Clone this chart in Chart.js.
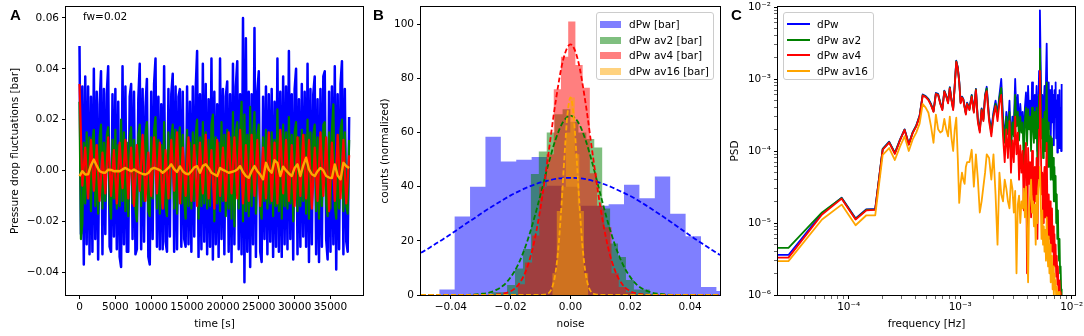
<!DOCTYPE html>
<html>
<head>
<meta charset="utf-8">
<script src="https://cdn.jsdelivr.net/npm/chart.js@4.4.1/dist/chart.umd.min.js"></script>
<style>
body{margin:0;background:#fff;overflow:hidden;font-family:"DejaVu Sans",sans-serif;color:#000;}
#wrap{position:relative;width:1084px;height:336px;overflow:hidden;}
canvas{position:absolute;top:0;}
.lbl{position:absolute;font:bold 15px "Liberation Sans",Arial,sans-serif;line-height:15px;}
.note{position:absolute;font-size:10.5px;line-height:12px;white-space:nowrap;}
.leg{position:absolute;box-sizing:border-box;background:rgba(255,255,255,0.8);border:1px solid #ccc;border-radius:3px;}
.row{position:absolute;left:0;height:12px;font-size:10.5px;line-height:12px;white-space:nowrap;}
.row i{position:absolute;display:block;}
.row span{position:absolute;}
</style>
</head>
<body>
<div id="wrap">
  <canvas id="cA" width="364" height="336" style="left:0"></canvas>
  <canvas id="cB" width="362" height="336" style="left:364px"></canvas>
  <canvas id="cC" width="358" height="336" style="left:726px"></canvas>
  <div class="lbl" style="left:10px;top:7px">A</div>
  <div class="lbl" style="left:373px;top:7px">B</div>
  <div class="lbl" style="left:731px;top:7px">C</div>
  <div class="note" style="left:83px;top:10px">fw=0.02</div>
  <div class="leg" id="legB" style="left:596px;top:12px;width:118px;height:68px"></div>
  <div class="leg" id="legC" style="left:783px;top:12px;width:91px;height:68px"></div>
</div>
<script>
// ===== A: pressure drop fluctuations [bar] =====
const sampleDt = 200;      // s, dPw / av2
const sampleDt4 = 400;     // s, av4
const sampleDt16 = 400;    // s, av16
const dPw = [
  0.049,-0.025,0.033,-0.037,0.037,-0.029,0.033,-0.033,0.029,-0.032,
  0.040,-0.027,0.031,-0.035,0.026,0.039,-0.033,0.032,-0.025,0.030,
  0.041,-0.030,-0.032,0.030,-0.026,0.032,-0.031,0.027,-0.034,-0.038,
  0.041,-0.029,0.033,-0.032,-0.032,0.029,0.034,-0.027,0.031,-0.033,
  -0.031,0.028,0.042,-0.031,0.032,-0.028,0.025,0.036,-0.034,-0.037,
  0.031,-0.027,0.034,0.044,-0.030,0.029,-0.031,0.026,-0.031,0.041,
  -0.028,-0.032,0.032,-0.026,0.030,0.038,-0.032,0.033,-0.031,0.029,
  0.032,-0.030,0.031,-0.027,-0.030,0.033,-0.029,0.027,-0.032,0.033,
  -0.026,0.032,0.047,-0.034,0.030,-0.031,0.042,-0.028,0.034,-0.033,
  0.028,-0.030,0.044,-0.035,0.031,-0.029,0.026,-0.034,0.044,-0.027,
  0.032,-0.033,0.029,0.035,-0.032,0.030,-0.036,0.042,-0.029,0.033,
  0.043,-0.031,0.030,-0.033,0.060,-0.044,0.052,-0.032,0.031,-0.038,
  0.030,-0.029,0.056,-0.034,0.031,0.039,-0.032,-0.036,0.029,-0.027,
  0.033,-0.033,0.030,-0.028,0.032,-0.034,0.027,-0.030,0.044,-0.032,
  0.031,-0.034,0.037,-0.029,0.033,-0.031,0.047,-0.027,0.030,-0.035,
  0.032,0.040,-0.033,0.028,-0.030,0.034,-0.026,0.031,-0.030,0.042,
  -0.036,0.032,-0.029,0.030,0.037,-0.033,0.028,-0.036,0.032,-0.030,
  0.037,0.039,-0.027,-0.035,0.031,-0.032,0.033,-0.029,0.041,-0.039,
  0.030,-0.031,0.034,0.043,-0.033,0.032,-0.028,-0.032,0.021
];
const dPwAv2 = [
  0.027,-0.027,-0.021,0.011,-0.013,0.015,-0.011,0.013,-0.016,0.012,
  0.016,-0.014,0.010,-0.017,0.013,0.018,-0.015,0.011,-0.012,0.014,
  0.017,-0.013,-0.019,0.012,-0.011,0.016,-0.015,0.010,-0.014,0.020,
  -0.012,0.015,-0.016,0.011,-0.018,0.013,0.017,-0.013,0.012,-0.015,
  -0.020,0.014,0.018,-0.014,0.011,-0.012,0.015,0.019,-0.016,-0.018,
  0.013,-0.011,0.016,0.021,-0.015,0.012,-0.017,0.010,-0.013,0.019,
  -0.014,-0.018,0.015,-0.011,0.013,0.018,-0.015,0.016,-0.017,0.012,
  0.017,-0.013,0.014,-0.012,-0.019,0.016,-0.014,0.011,-0.015,0.015,
  -0.012,0.014,0.020,-0.019,0.013,-0.014,0.019,-0.013,0.015,-0.015,
  0.012,-0.014,0.018,0.022,-0.020,0.013,-0.013,0.011,-0.016,0.019,
  -0.012,0.014,-0.018,0.016,-0.015,0.013,-0.019,0.023,-0.022,0.015,
  0.019,-0.015,0.015,0.027,-0.020,0.022,-0.016,0.014,-0.018,0.025,
  -0.014,0.013,0.023,-0.017,0.014,0.018,-0.015,-0.019,0.013,-0.012,
  0.016,-0.015,0.014,-0.013,0.015,-0.018,0.012,-0.014,0.024,-0.016,
  0.014,-0.019,0.018,-0.014,0.015,-0.015,0.021,-0.013,0.014,-0.020,
  0.015,0.019,-0.016,0.013,-0.014,0.016,-0.012,0.014,-0.017,0.020,
  -0.019,0.015,-0.014,0.014,0.018,-0.016,0.013,-0.019,0.015,-0.014,
  0.018,0.019,-0.013,-0.018,0.015,-0.015,0.016,0.026,-0.014,-0.019,
  0.014,-0.015,0.016,0.020,-0.016,0.015,-0.014,-0.017,0.012
];
const dPwAv4 = [
  0.034,-0.006,0.009,-0.011,0.012,-0.008,0.010,-0.012,0.007,-0.009,
  0.013,-0.010,0.008,-0.013,0.011,-0.007,0.012,-0.011,0.009,-0.014,
  0.010,-0.008,0.014,-0.012,0.007,-0.010,0.013,-0.009,0.011,-0.015,
  0.008,-0.011,0.012,-0.008,0.015,-0.013,0.009,-0.010,0.013,-0.012,
  0.010,-0.014,0.011,-0.009,0.014,-0.011,0.008,-0.015,0.012,-0.010,
  0.009,-0.012,0.015,-0.009,0.013,-0.011,0.016,-0.013,0.010,-0.012,
  0.014,-0.010,0.012,-0.014,0.009,-0.011,0.015,-0.012,0.011,-0.013,
  0.016,-0.009,0.012,-0.012,0.010,-0.014,0.013,-0.010,0.014,-0.011,
  0.012,-0.015,0.009,-0.012,0.015,-0.010,0.013,-0.016,0.011,-0.012,
  0.014,-0.011,0.012,-0.013,0.006
];
const dPwAv16 = [
  -0.0022,-0.0003,-0.0016,-0.0015,0.0020,0.0043,0.0018,-0.0003,-0.0008,-0.0009,
  0.0003,0.0002,-0.0003,-0.0002,-0.0003,0.0004,0.0010,0.0003,-0.0003,0.0004,
  -0.0003,-0.0009,-0.0014,-0.0016,-0.0010,0.0005,0.0010,0.0006,0.0001,-0.0009,
  0.0000,0.0010,0.0024,0.0005,-0.0006,0.0016,-0.0003,-0.0012,-0.0015,-0.0003,
  0.0012,0.0017,-0.0009,0.0018,0.0024,0.0010,-0.0009,-0.0015,-0.0022,0.0010,
  0.0002,-0.0003,-0.0009,-0.0006,-0.0003,0.0004,0.0017,-0.0006,-0.0022,-0.0029,
  -0.0003,0.0017,-0.0003,-0.0016,-0.0035,0.0030,0.0003,-0.0009,0.0040,0.0030,
  -0.0022,0.0015,0.0000,-0.0012,-0.0022,0.0010,0.0024,-0.0022,0.0020,0.0050,
  0.0004,-0.0015,-0.0022,-0.0003,0.0010,0.0000,-0.0022,-0.0028,-0.0030,0.0024,
  -0.0020,-0.0035,0.0030,0.0017,0.0010
];
const timeTicks = [0,5000,10000,15000,20000,25000,30000,35000];
const dpTicks = [-0.04,-0.02,0,0.02,0.04,0.06];

// ===== B: noise histograms (normalized counts) =====
const histEdgesDPw = [-0.0439,-0.03875,-0.0336,-0.02845,-0.0233,-0.01815,-0.013,-0.00785,-0.0027,0.00245,0.0076,
  0.01275,0.0179,0.02305,0.0282,0.03335,0.0385,0.04365,0.0488,0.05395,0.0591];
const histDPw = [2,29,40,58.5,49.3,50,51,40.4,40,33,33,33.5,40.7,35.7,43.8,30,21.7,3,1.5,0.5];
const histEdgesAv2 = [-0.0265,-0.02385,-0.0212,-0.01855,-0.0159,-0.01325,-0.0106,-0.00795,-0.0053,-0.00265,0,
  0.00265,0.0053,0.00795,0.0106,0.01325,0.0159,0.01855,0.0212,0.02385,0.0265,0.02915];
const histAv2 = [1,1,3.7,9.8,17,44.7,53,60,66.8,68.6,64,60,57.6,54.5,32,19,14,5.5,2,2,0.5];
const histEdgesAv4 = [-0.01768,-0.01526,-0.01285,-0.01043,-0.00802,-0.0056,-0.00319,-0.00077,0.00164,0.00406,
  0.00647,0.00889,0.0113,0.01372,0.01613,0.01855,0.02096];
const histAv4 = [4,12,22,40,52,76,88,101,85,76.6,45,33,25,8,3,1];
const histEdgesAv16 = [-0.0061,-0.00459,-0.00308,-0.00157,-0.00006,0.00145,0.00296,0.00447,0.00598];
const histAv16 = [8,31,40,60,73,52,31,8];

const fitX = [-0.05,-0.0475,-0.045,-0.0425,-0.04,-0.0375,-0.035,-0.0325,-0.03,-0.0275,-0.025,-0.0225,-0.02,-0.0175,
  -0.015,-0.0125,-0.01,-0.0075,-0.005,-0.0025,0,0.0025,0.005,0.0075,0.01,0.0125,0.015,0.0175,0.02,0.0225,0.025,
  0.0275,0.03,0.0325,0.035,0.0375,0.04,0.0425,0.045,0.0475,0.05];
const fitDPw = [15.6,17.2,19.0,20.7,22.5,24.4,26.3,28.1,30.0,31.8,33.5,35.2,36.8,38.2,39.5,40.6,41.6,42.3,42.9,43.2,43.3,
  43.2,42.8,42.2,41.4,40.4,39.2,37.9,36.6,35.0,33.3,31.5,29.7,27.8,25.9,23.9,22.0,20.1,18.3,16.5,14.8];
const fitAv2 = [0,0,0,0,0,0,0.05,0.15,0.4,0.8,1.8,3.5,6.6,11.3,18.1,26.9,37.2,47.9,57.4,63.9,66.3,
  63.9,57.4,47.9,37.2,26.9,18.1,11.3,6.6,3.5,1.8,0.8,0.4,0.15,0.05,0,0,0,0,0,0];
const fitAv4 = [0,0,0,0,0,0,0,0,0,0,0.15,0.5,1.4,3.7,8.7,17.9,32.4,51.3,71.2,86.7,92.6,
  86.7,71.2,51.3,32.4,17.9,8.7,3.7,1.4,0.5,0.15,0,0,0,0,0,0,0,0,0,0];
const fitX16 = [-0.05,-0.012,-0.01,-0.009,-0.008,-0.007,-0.006,-0.005,-0.004,-0.003,-0.002,-0.001,0,
  0.001,0.002,0.003,0.004,0.005,0.006,0.007,0.008,0.009,0.01,0.012,0.05];
const fitAv16 = [0,0,0,0.1,0.3,1.0,3.2,8.3,18.2,33.4,51.6,66.9,73,66.9,51.6,33.4,18.2,8.3,3.2,1.0,0.3,0.1,0,0,0];
const noiseTicks = [-0.04,-0.02,0,0.02,0.04];
const countTicks = [0,20,40,60,80,100];

// ===== C: PSD =====
const binHz = 2.88e-5;
const psdBin = [0.5,1,2,3,4,5,6,7,8,9,10,11,12,13,14,15,16,17,18,19,20,21,22,23,24,25,26,27,28,29,30,
  31,32,33,34,35,36,37,38,39,40,42,44,46,48,50,52,54,56,58,60,
  63,66,69,72,75,78,81,84,87,90,93,96,99,102,105,108,111,114,117,120,123,126,129,132,135,138,141,144,147,150,
  153,156,159,162,165,168,171,174,177,180,183,186,189,192,195,198,201,204,207,210,213,216,219,222,225,228,
  231,234,237,240,243,246,249,252,255,258,261,264,267,270,273,276,279,282];
const psdDPw = [
  3.6e-6,3.6e-6,1.36e-5,2.25e-5,1.16e-5,1.55e-5,1.57e-5,1.07e-4,1.35e-4,9.4e-5,1.44e-4,2.0e-4,1.26e-4,1.82e-4,
  2.27e-4,3.1e-4,6.1e-4,5.8e-4,5.3e-4,4.5e-4,3.6e-4,6.4e-4,6.2e-4,4.7e-4,3.85e-4,6.9e-4,5.9e-4,4.8e-4,7.7e-4,
  5.2e-4,3.9e-4,8.3e-4,1.8e-3,1.46e-3,9.4e-4,4.8e-4,5.7e-4,5.3e-4,4.2e-4,3.35e-4,4.7e-4,
  3.9e-4,6.0e-4,3.6e-4,7.3e-4,2.7e-4,2.0e-4,3.9e-4,2.8e-4,6.0e-4,7.8e-4,
  3.0e-4,2.0e-4,3.5e-4,5.0e-4,3.2e-4,6.0e-4,1.0e-3,3.0e-4,1.5e-4,3.5e-4,
  2.0e-4,5.0e-4,1.2e-4,3.0e-4,2.2e-4,1.0e-3,3.0e-4,6.0e-4,2.0e-4,4.5e-4,
  2.5e-4,3.5e-4,1.4e-4,4.0e-4,6.5e-4,2.0e-4,8.0e-4,3.0e-4,5.0e-4,1.8e-4,
  9.0e-4,4.0e-4,2.4e-4,6.0e-4,3.0e-4,8.0e-4,1.0e-4,4.0e-4,1.3e-3,9.0e-3,
  1.5e-3,3.0e-4,6.0e-4,1.5e-4,4.5e-4,8.0e-4,2.5e-4,1.0e-3,3.1e-3,5.0e-4,
  2.0e-4,9.0e-4,3.0e-4,7.0e-4,1.5e-4,4.0e-4,8.0e-4,2.5e-4,6.0e-4,1.2e-4,
  7.0e-4,3.0e-4,9.0e-4,1.5e-4,5.0e-4,9.5e-5,6.0e-4,2.5e-4,1.1e-4,7.0e-4,
  2.0e-4,4.0e-4,1.0e-4,8.5e-4
];
const psdAv2 = [
  4.5e-6,4.5e-6,1.4e-5,2.22e-5,1.14e-5,1.53e-5,1.55e-5,1.06e-4,1.33e-4,9.3e-5,1.42e-4,1.98e-4,1.24e-4,1.8e-4,
  2.24e-4,3.05e-4,6.0e-4,5.7e-4,5.2e-4,4.4e-4,3.55e-4,6.3e-4,6.1e-4,4.6e-4,3.8e-4,6.8e-4,5.8e-4,4.7e-4,7.6e-4,
  5.1e-4,3.8e-4,8.2e-4,1.77e-3,1.43e-3,9.2e-4,4.7e-4,5.6e-4,5.2e-4,4.1e-4,3.3e-4,4.6e-4,
  3.8e-4,5.9e-4,3.5e-4,7.2e-4,2.6e-4,1.9e-4,3.8e-4,2.7e-4,5.9e-4,7.4e-4,
  2.8e-4,1.8e-4,3.2e-4,4.5e-4,3.0e-4,5.5e-4,7.5e-4,2.5e-4,1.3e-4,3.0e-4,
  1.7e-4,3.5e-4,1.0e-4,2.5e-4,1.6e-4,6.0e-4,2.2e-4,3.5e-4,1.4e-4,3.0e-4,
  1.8e-4,2.5e-4,6.0e-5,2.6e-4,4.0e-4,1.2e-4,3.8e-4,2.0e-4,3.0e-4,1.0e-4,
  4.0e-4,2.2e-4,1.3e-4,3.5e-4,1.5e-4,4.0e-4,6.0e-5,2.0e-4,6.0e-4,2.65e-3,
  6.0e-4,1.5e-4,2.8e-4,8.0e-5,2.0e-4,3.5e-4,1.0e-4,3.5e-4,9.0e-4,1.6e-4,
  6.0e-5,2.5e-4,8.0e-5,1.6e-4,4.0e-5,9.0e-5,1.5e-4,4.0e-5,8.0e-5,2.0e-5,
  6.0e-5,2.0e-5,4.5e-5,1.0e-5,2.5e-5,6.0e-6,1.5e-5,5.0e-6,3.0e-6,6.0e-6,
  2.0e-6,2.5e-6,1.2e-6,1.0e-6
];
const psdAv4 = [
  3.3e-6,3.3e-6,1.31e-5,2.18e-5,1.12e-5,1.5e-5,1.52e-5,1.04e-4,1.31e-4,9.1e-5,1.4e-4,1.96e-4,1.22e-4,1.77e-4,
  2.2e-4,3.0e-4,5.9e-4,5.6e-4,5.1e-4,4.3e-4,3.5e-4,6.2e-4,6.0e-4,4.5e-4,3.7e-4,6.7e-4,5.7e-4,4.6e-4,7.4e-4,
  5.0e-4,3.7e-4,8.0e-4,1.73e-3,1.4e-3,9.0e-4,4.6e-4,5.5e-4,5.1e-4,4.0e-4,3.2e-4,4.5e-4,
  3.7e-4,5.7e-4,3.4e-4,7.0e-4,2.5e-4,1.8e-4,3.7e-4,2.6e-4,5.7e-4,6.8e-4,
  2.6e-4,1.6e-4,3.0e-4,4.2e-4,2.6e-4,4.6e-4,6.0e-4,1.6e-4,7.0e-5,2.0e-4,
  8.0e-5,2.6e-4,5.0e-5,1.4e-4,7.0e-5,3.0e-4,9.0e-5,1.8e-4,4.0e-5,1.2e-4,
  5.0e-5,1.0e-4,1.5e-5,8.0e-5,1.3e-4,2.0e-6,1.1e-4,3.5e-5,7.0e-5,1.2e-5,
  1.0e-4,3.0e-5,1.5e-5,6.0e-5,2.0e-5,8.0e-5,6.0e-6,4.0e-5,2.0e-4,1.3e-3,
  2.0e-4,2.5e-5,5.0e-5,1.0e-5,4.0e-5,6.0e-5,1.2e-5,4.0e-5,1.3e-4,1.8e-5,
  6.0e-6,2.5e-5,8.0e-6,2.0e-5,4.0e-6,1.0e-5,1.6e-5,4.0e-6,9.0e-6,2.5e-6,
  7.0e-6,2.5e-6,5.0e-6,1.8e-6,3.5e-6,1.4e-6,2.5e-6,1.2e-6,1.0e-6,1.6e-6,
  9.0e-7,1.1e-6,9.0e-7,8.5e-7
];
const psdAv16 = [
  2.96e-6,2.96e-6,1.12e-5,1.8e-5,9.3e-6,1.28e-5,1.28e-5,8.8e-5,1.1e-4,7.5e-5,1.15e-4,1.6e-4,1.0e-4,1.45e-4,
  1.8e-4,2.4e-4,4.5e-4,4.0e-4,3.4e-4,2.2e-4,1.3e-4,3.2e-4,2.0e-4,1.8e-4,1.9e-4,2.8e-4,2.0e-4,1.6e-4,3.0e-4,
  1.5e-4,1.0e-4,2.0e-4,2.9e-4,8.0e-5,1.9e-5,3.5e-5,5.0e-5,4.0e-5,3.5e-5,6.0e-5,7.0e-5,
  7.0e-5,1.04e-4,3.2e-5,9.0e-5,4.0e-5,1.4e-5,2.0e-5,3.2e-5,5.0e-5,9.0e-5,
  8.0e-5,4.0e-5,9.0e-5,2.5e-5,5.0e-6,5.0e-5,2.5e-5,2.0e-5,4.0e-5,3.0e-5,
  2.0e-5,1.6e-5,4.0e-5,3.0e-5,1.4e-5,2.8e-5,2.0e-6,1.8e-5,2.4e-5,1.0e-5,
  2.0e-5,1.6e-5,3.0e-5,1.2e-5,3.2e-5,8.0e-6,1.5e-6,1.6e-5,2.4e-5,4.0e-5,
  1.4e-5,2.0e-5,9.0e-6,1.8e-5,5.0e-6,2.4e-5,1.0e-5,3.0e-5,4.0e-5,6.0e-5,
  2.0e-5,6.0e-6,1.5e-5,5.0e-6,9.0e-6,4.0e-6,8.0e-6,3.0e-6,1.2e-5,5.0e-6,
  2.5e-6,6.5e-6,2.0e-6,5.0e-6,1.5e-6,3.5e-6,3.0e-6,1.2e-6,2.5e-6,1.0e-6,
  2.0e-6,1.2e-6,1.6e-6,9.0e-7,1.3e-6,8.0e-7,1.1e-6,8.0e-7,9.0e-7,1.1e-6,
  8.0e-7,8.0e-7,7.0e-7,7.0e-7
];
const freqMajor = [1e-4,1e-3,1e-2];
const freqMinor = [3e-5,4e-5,5e-5,6e-5,7e-5,8e-5,9e-5,2e-4,3e-4,4e-4,5e-4,6e-4,7e-4,8e-4,9e-4,
  2e-3,3e-3,4e-3,5e-3,6e-3,7e-3,8e-3,9e-3];
const psdMajor = [1e-6,1e-5,1e-4,1e-3,1e-2];
const psdMinor = [2e-6,3e-6,4e-6,5e-6,6e-6,7e-6,8e-6,9e-6,2e-5,3e-5,4e-5,5e-5,6e-5,7e-5,8e-5,9e-5,
  2e-4,3e-4,4e-4,5e-4,6e-4,7e-4,8e-4,9e-4,2e-3,3e-3,4e-3,5e-3,6e-3,7e-3,8e-3,9e-3];
const supExp = {'-6':'\u207B\u2076','-5':'\u207B\u2075','-4':'\u207B\u2074','-3':'\u207B\u00B3','-2':'\u207B\u00B2'};

// ===== common settings =====
Chart.defaults.font.family = '"DejaVu Sans", sans-serif';
Chart.defaults.font.size = 10.5;
Chart.defaults.color = '#000';
Chart.defaults.animation = false;
Chart.defaults.events = [];
Chart.defaults.plugins.legend.display = false;
Chart.defaults.plugins.tooltip.enabled = false;

const frame = {
  id: 'frame',
  afterDatasetsDraw(chart) {
    const a = chart.chartArea, c = chart.ctx;
    c.save();
    c.strokeStyle = '#000';
    c.lineWidth = 1;
    c.strokeRect(Math.round(a.left) - 0.5, Math.round(a.top) - 0.5,
      Math.round(a.right - a.left) + 1, Math.round(a.bottom - a.top) + 1);
    c.restore();
  }
};

function fixSize(size, isX) {
  return s => {
    if (isX) s.height = size; else s.width = size;
    s.paddingTop = s.paddingBottom = s.paddingLeft = s.paddingRight = 0;
  };
}
function useTicks(values, majors) {
  return s => { s.ticks = values.map(v => ({value: v, major: majors ? majors.includes(v) : true})); };
}
const tickGrid = {
  drawOnChartArea: false, drawTicks: true, tickLength: 4, tickColor: '#000',
  tickWidth: ctx => (ctx.tick && ctx.tick.major === false) ? 0.6 : 1
};
const dec2 = v => (v < 0 ? '\u2212' : '') + Math.abs(v).toFixed(2);
const expLabel = v => {
  const e = Math.round(Math.log10(v));
  return (Math.abs(v / Math.pow(10, e) - 1) < 1e-9) ? '10' + supExp[e] : '';
};

function axis(opts) {
  return Object.assign({
    bounds: 'data',
    border: {display: false},
    grid: tickGrid,
  }, opts);
}

// ===== chart A =====
const series = (vals, dt) => vals.map((v, i) => ({x: i * dt, y: v}));
function lineSet(label, data, color, order, width) {
  return {label, data, borderColor: color, borderWidth: width, pointRadius: 0,
    borderJoinStyle: 'round', tension: 0, order, fill: false};
}
new Chart(document.getElementById('cA'), {
  type: 'line',
  data: {datasets: [
    lineSet('dPw', series(dPw, sampleDt), '#0000ff', 3, 2.5),
    lineSet('dPw av2', series(dPwAv2, sampleDt), '#008000', 2, 2.2),
    lineSet('dPw av4', series(dPwAv4, sampleDt4), '#ff0000', 1, 2.2),
    lineSet('dPw av16', series(dPwAv16, sampleDt16), '#ffa500', 0, 2.4)
  ]},
  options: {
    responsive: false, devicePixelRatio: 1,
    layout: {padding: {left: 0, right: 1, top: 7, bottom: 0}},
    scales: {
      x: axis({type: 'linear', min: -1883, max: 39533,
        afterFit: fixSize(41, true), afterBuildTicks: useTicks(timeTicks),
        ticks: {autoSkip: false, maxRotation: 0, padding: 2, callback: v => String(v)},
        title: {display: true, text: 'time [s]', padding: {top: 0, bottom: 5}}}),
      y: axis({type: 'linear', min: -0.049, max: 0.0643,
        afterFit: fixSize(66, false), afterBuildTicks: useTicks(dpTicks),
        ticks: {autoSkip: false, padding: 3, callback: dec2},
        title: {display: true, text: 'Pressure drop fluctuations [bar]', padding: {top: 9, bottom: 0}}})
    }
  },
  plugins: [frame]
});

// ===== chart B =====
function histPts(edges, counts) {
  const pts = counts.map((c, i) => ({x: edges[i], y: c}));
  pts.push({x: edges[edges.length - 1], y: 0});
  return pts;
}
function histSet(label, edges, counts, fillColor, order) {
  return {label, data: histPts(edges, counts), stepped: true, fill: 'origin',
    backgroundColor: fillColor, borderColor: 'rgba(0,0,0,0)', borderWidth: 0, pointRadius: 0, order};
}
function fitSet(xs, ys, color, order) {
  return {data: xs.map((x, i) => ({x, y: ys[i]})), borderColor: color, borderWidth: 1.8,
    borderDash: [5, 2.5], pointRadius: 0, cubicInterpolationMode: 'monotone', fill: false, order};
}
new Chart(document.getElementById('cB'), {
  type: 'line',
  data: {datasets: [
    histSet('dPw [bar]', histEdgesDPw, histDPw, 'rgba(0,0,255,0.5)', 7),
    histSet('dPw av2 [bar]', histEdgesAv2, histAv2, 'rgba(0,128,0,0.5)', 6),
    histSet('dPw av4 [bar]', histEdgesAv4, histAv4, 'rgba(255,0,0,0.5)', 5),
    histSet('dPw av16 [bar]', histEdgesAv16, histAv16, 'rgba(255,165,0,0.5)', 4),
    fitSet(fitX, fitDPw, '#0000ff', 3),
    fitSet(fitX, fitAv2, '#008000', 2),
    fitSet(fitX, fitAv4, '#ff0000', 1),
    fitSet(fitX16, fitAv16, '#ffa500', 0)
  ]},
  options: {
    responsive: false, devicePixelRatio: 1,
    layout: {padding: {left: 0, right: 6, top: 7, bottom: 0}},
    scales: {
      x: axis({type: 'linear', min: -0.05, max: 0.05,
        afterFit: fixSize(41, true), afterBuildTicks: useTicks(noiseTicks),
        ticks: {autoSkip: false, maxRotation: 0, padding: 2, callback: dec2},
        title: {display: true, text: 'noise', padding: {top: 0, bottom: 5}}}),
      y: axis({type: 'linear', min: 0, max: 106.4,
        afterFit: fixSize(57, false), afterBuildTicks: useTicks(countTicks),
        ticks: {autoSkip: false, padding: 3, callback: v => String(v)},
        title: {display: true, text: 'counts (normalized)', padding: {top: 15, bottom: 0}}})
    }
  },
  plugins: [frame]
});

// ===== chart C =====
const freqHz = psdBin.map(k => k * binHz);
const psdSeries = vals => vals.map((v, i) => ({x: freqHz[i], y: v}));
new Chart(document.getElementById('cC'), {
  type: 'line',
  data: {datasets: [
    Object.assign(lineSet('dPw', psdSeries(psdDPw), '#0000ff', 3, 1.8), {clip: 0}),
    Object.assign(lineSet('dPw av2', psdSeries(psdAv2), '#008000', 2, 1.8), {clip: 0}),
    Object.assign(lineSet('dPw av4', psdSeries(psdAv4), '#ff0000', 1, 1.8), {clip: 0}),
    Object.assign(lineSet('dPw av16', psdSeries(psdAv16), '#ffa500', 0, 1.8), {clip: 0})
  ]},
  options: {
    responsive: false, devicePixelRatio: 1,
    layout: {padding: {left: 0, right: 9, top: 7, bottom: 0}},
    scales: {
      x: axis({type: 'logarithmic', min: 2.32e-5, max: 1.07e-2,
        afterFit: fixSize(41, true), afterBuildTicks: useTicks(freqMajor.concat(freqMinor), freqMajor),
        ticks: {autoSkip: false, maxRotation: 0, padding: 2, callback: expLabel},
        title: {display: true, text: 'frequency [Hz]', padding: {top: 0, bottom: 5}}}),
      y: axis({type: 'logarithmic', min: 1e-6, max: 1e-2,
        afterFit: fixSize(52, false), afterBuildTicks: useTicks(psdMajor.concat(psdMinor), psdMajor),
        ticks: {autoSkip: false, padding: 3, callback: expLabel},
        title: {display: true, text: 'PSD', padding: {top: 3, bottom: 0}}})
    }
  },
  plugins: [frame]
});

// ===== legends =====
const legBItems = [['dPw [bar]', 'rgba(0,0,255,0.5)'], ['dPw av2 [bar]', 'rgba(0,128,0,0.5)'],
  ['dPw av4 [bar]', 'rgba(255,0,0,0.5)'], ['dPw av16 [bar]', 'rgba(255,165,0,0.5)']];
const legCItems = [['dPw', '#0000ff'], ['dPw av2', '#008000'], ['dPw av4', '#ff0000'], ['dPw av16', '#ffa500']];
const legRowY = [5, 21, 36, 52];
legBItems.forEach(function(it, i) {
  const r = document.createElement('div');
  r.className = 'row';
  r.style.top = legRowY[i] + 'px';
  r.innerHTML = '<i style="left:3px;top:2.5px;width:21px;height:7px;background:' + it[1] + '"></i>' +
    '<span style="left:32px;top:0">' + it[0] + '</span>';
  document.getElementById('legB').appendChild(r);
});
legCItems.forEach(function(it, i) {
  const r = document.createElement('div');
  r.className = 'row';
  r.style.top = legRowY[i] + 'px';
  r.innerHTML = '<i style="left:3px;top:5px;width:23px;height:2px;background:' + it[1] + '"></i>' +
    '<span style="left:33px;top:0">' + it[0] + '</span>';
  document.getElementById('legC').appendChild(r);
});
</script>
</body>
</html>
